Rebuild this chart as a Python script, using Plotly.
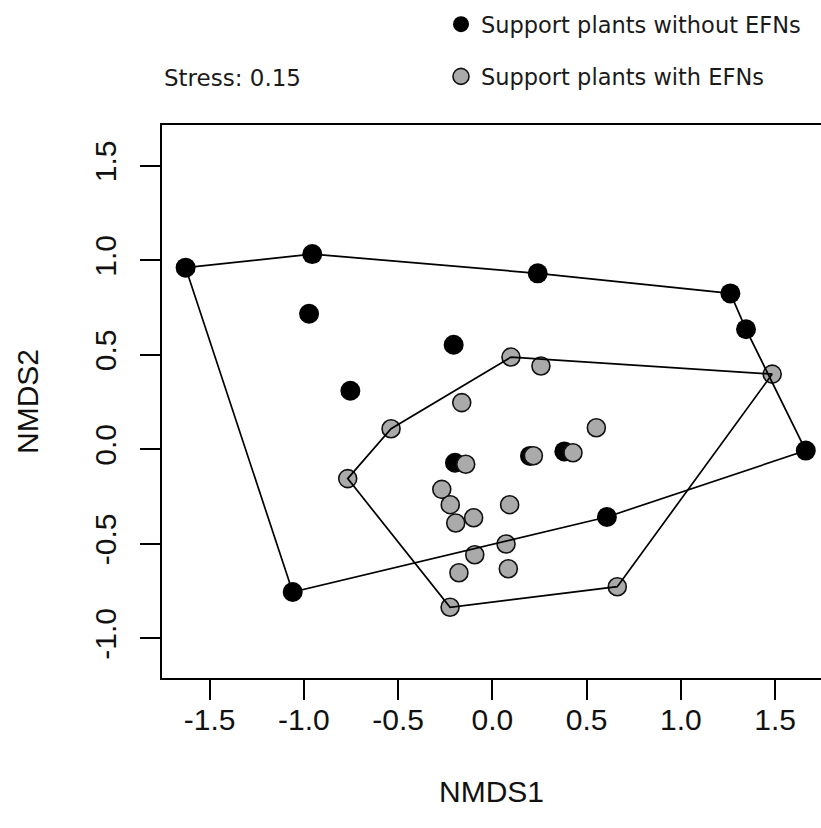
import plotly.graph_objects as go

# ---- data (NMDS scores) ----
noefn_x = [-1.627, -0.955, -0.972, -0.205, -0.753, 0.241, -0.198, 0.200,
           1.263, 1.346, 1.663, 0.608, 0.382, -1.059]
noefn_y = [0.961, 1.033, 0.717, 0.553, 0.310, 0.931, -0.071, -0.035,
           0.825, 0.635, -0.007, -0.358, -0.011, -0.755]

efn_x = [0.099, 0.258, -0.162, -0.537, -0.767, -0.141, 0.218, -0.268,
         -0.223, 0.092, -0.099, -0.194, 1.485, 0.552, 0.428, -0.224,
         0.663, 0.073, -0.093, -0.177, 0.085]
efn_y = [0.488, 0.441, 0.247, 0.109, -0.155, -0.079, -0.034, -0.212,
         -0.293, -0.293, -0.362, -0.390, 0.398, 0.114, -0.018, -0.836,
         -0.727, -0.501, -0.558, -0.653, -0.632]

# convex hull vertices (indices into the arrays above), closed
hull_noefn = [0, 1, 5, 8, 9, 10, 11, 13, 0]
hull_efn = [0, 12, 16, 15, 4, 3, 0]

x_ticks = [-1.5, -1.0, -0.5, 0.0, 0.5, 1.0, 1.5]
x_ticktext = ["-1.5", "-1.0", "-0.5", "0.0", "0.5", "1.0", "1.5"]
y_ticks = [-1.0, -0.5, 0.0, 0.5, 1.0, 1.5]
y_ticktext = ["-1.0", "-0.5", "0.0", "0.5", "1.0", "1.5"]

legend_labels = ["Support plants without EFNs", "Support plants with EFNs"]
stress_text = "Stress: 0.15"

W, H = 821, 828
ML, MR, MT, MB = 162, 0, 125, 150

fig = go.Figure()

fig.add_trace(go.Scatter(
    x=noefn_x, y=noefn_y, mode="markers", name=legend_labels[0],
    legendgroup="a",
    marker=dict(symbol="circle", size=20, color="black",
                line=dict(color="black", width=0)),
))
fig.add_trace(go.Scatter(
    x=efn_x, y=efn_y, mode="markers", name=legend_labels[1],
    legendgroup="b",
    marker=dict(symbol="circle", size=18, color="#aaaaaa",
                line=dict(color="#111111", width=1.6)),
))
fig.add_trace(go.Scatter(
    x=[noefn_x[i] for i in hull_noefn], y=[noefn_y[i] for i in hull_noefn],
    mode="lines", line=dict(color="black", width=1.7), showlegend=False,
    hoverinfo="skip",
))
fig.add_trace(go.Scatter(
    x=[efn_x[i] for i in hull_efn], y=[efn_y[i] for i in hull_efn],
    mode="lines", line=dict(color="black", width=1.7), showlegend=False,
    hoverinfo="skip",
))

plot_h = H - MT - MB
fig.add_annotation(
    text=stress_text, xref="paper", yref="paper", x=0, y=1 + (MT - 78) / plot_h,
    xanchor="left", yanchor="middle", showarrow=False,
    font=dict(family="DejaVu Sans", size=23, color="#1a1a1a"),
)

fig.update_layout(
    width=W, height=H,
    margin=dict(l=ML, r=MR, t=MT, b=MB, pad=0),
    paper_bgcolor="white", plot_bgcolor="white",
    showlegend=True,
    legend=dict(
        x=(441 - ML) / (W - ML - MR), xanchor="left",
        y=1 + (MT - 3) / plot_h, yanchor="top",
        font=dict(family="DejaVu Sans", size=22.5, color="#1a1a1a"),
        bgcolor="rgba(0,0,0,0)", borderwidth=0,
        tracegroupgap=20, itemsizing="trace",
    ),
    xaxis=dict(
        range=[(ML - 492.3) / 188.5, (W - MR - 492.3) / 188.5],
        tickmode="array", tickvals=x_ticks, ticktext=x_ticktext,
        ticks="outside", ticklen=20, tickwidth=1.8, tickcolor="black",
        showline=True, linecolor="black", linewidth=2, mirror=True,
        showgrid=False, zeroline=False,
        tickfont=dict(family="Liberation Sans, Arial", size=30, color="#111111"),
        ticklabelstandoff=-6,
        title=dict(text="NMDS1", standoff=46,
                   font=dict(family="Liberation Sans, Arial", size=30, color="#111111")),
    ),
    yaxis=dict(
        range=[(449.3 - (H - MB)) / 189.0, (449.3 - MT) / 189.0],
        tickmode="array", tickvals=y_ticks, ticktext=y_ticktext,
        ticks="outside", ticklen=20, tickwidth=1.8, tickcolor="black",
        showline=True, linecolor="black", linewidth=2, mirror=False,
        showgrid=False, zeroline=False, tickangle=-90,
        tickfont=dict(family="Liberation Sans, Arial", size=30, color="#111111"),
        ticklabelstandoff=12,
        title=dict(text="NMDS2", standoff=42,
                   font=dict(family="Liberation Sans, Arial", size=30, color="#111111")),
    ),
)

fig.write_html("out.html")
